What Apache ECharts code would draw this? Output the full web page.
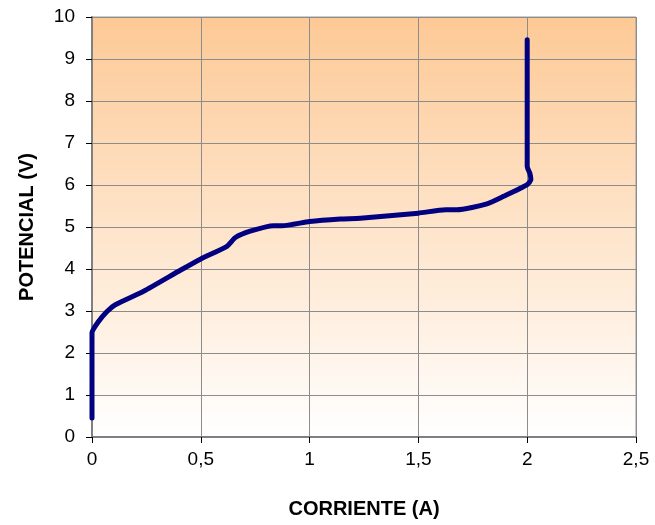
<!DOCTYPE html>
<html>
<head>
<meta charset="utf-8">
<script src="https://cdn.jsdelivr.net/npm/echarts@6/dist/echarts.min.js"></script>
<style>
  html, body { margin: 0; padding: 0; background: #ffffff; }
  #chart { width: 655px; height: 525px; }
</style>
</head>
<body>
<div id="chart"></div>
<script>
// Polarization curve: current (A) vs. potential (V)
const corriente = [0, 0, 0, 0.03, 0.069, 0.107, 0.237, 0.406, 0.5, 0.62, 0.659, 0.727, 0.835, 0.873, 1.0, 1.141, 1.233, 1.5, 1.624, 1.677, 1.815, 1.892, 2.0, 2.017, 2.012, 2.0, 2.0];
const potencial = [0.45, 2.28, 2.48, 2.75, 2.99, 3.15, 3.47, 3.97, 4.24, 4.54, 4.75, 4.90, 5.03, 5.03, 5.13, 5.19, 5.21, 5.33, 5.41, 5.41, 5.55, 5.73, 6.01, 6.13, 6.28, 6.44, 9.46];
const xTicks = { min: 0, max: 2.5, step: 0.5 };
const yTicks = { min: 0, max: 10, step: 1 };

const points = corriente.map((c, i) => [c, potencial[i]]);

const chart = echarts.init(document.getElementById('chart'), null, { renderer: 'canvas' });
const font = '"Liberation Sans", Arial, sans-serif';

chart.setOption({
  animation: false,
  grid: {
    left: 92, right: 19, top: 17, bottom: 88,
    show: true,
    borderColor: '#9a9a9a',
    borderWidth: 1,
    backgroundColor: new echarts.graphic.LinearGradient(0, 0, 0, 1, [
      { offset: 0, color: '#fdc995' },
      { offset: 1, color: '#ffffff' }
    ])
  },
  xAxis: {
    type: 'value',
    min: xTicks.min, max: xTicks.max, interval: xTicks.step,
    name: 'CORRIENTE (A)',
    nameLocation: 'middle',
    nameGap: 62,
    nameTextStyle: { fontFamily: font, fontSize: 20, fontWeight: 'bold', color: '#000' },
    axisLine: { show: true, onZero: false, lineStyle: { color: '#808080', width: 2 } },
    axisTick: { show: true, length: 6, lineStyle: { color: '#000', width: 1 } },
    axisLabel: {
      margin: 13, fontFamily: font, fontSize: 19, color: '#000',
      formatter: v => String(v).replace('.', ',')
    },
    splitLine: { show: true, lineStyle: { color: '#8c8c8c', width: 1 } }
  },
  yAxis: {
    type: 'value',
    min: yTicks.min, max: yTicks.max, interval: yTicks.step,
    name: 'POTENCIAL (V)',
    nameLocation: 'middle',
    nameGap: 55,
    nameRotate: 90,
    nameTextStyle: { fontFamily: font, fontSize: 20, fontWeight: 'bold', color: '#000' },
    axisLine: { show: true, onZero: false, lineStyle: { color: '#808080', width: 2 } },
    axisTick: { show: true, length: 6, lineStyle: { color: '#000', width: 1 } },
    axisLabel: { margin: 17, fontFamily: font, fontSize: 19, color: '#000' },
    splitLine: { show: true, lineStyle: { color: '#8c8c8c', width: 1 } }
  },
  series: [{
    type: 'line',
    data: points,
    showSymbol: false,
    smooth: 0.2,
    lineStyle: { color: '#000080', width: 5, cap: 'round', join: 'round' },
    clip: false
  }]
});
</script>
</body>
</html>
